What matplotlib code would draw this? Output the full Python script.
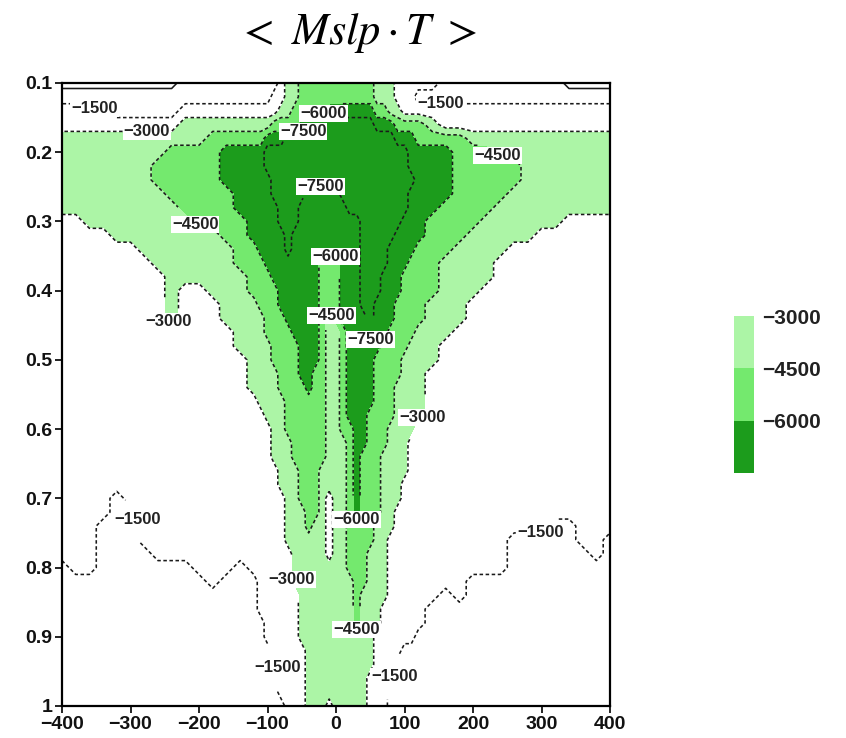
import numpy as np
import matplotlib
matplotlib.use("Agg")
import matplotlib.pyplot as plt
import matplotlib as mpl
from matplotlib.colors import ListedColormap, BoundaryNorm

plt.rcParams['font.family'] = ['Liberation Sans', 'DejaVu Sans']
plt.rcParams['mathtext.fontset'] = 'stix'

# grid nodes (finer in the middle where the funnel is narrow)
x_nodes = [-400, -380, -360, -340, -320, -300, -280, -260, -240, -220, -200, -180, -160, -140, -120,
           -110, -100, -90, -80, -70, -60, -50, -40, -30, -20, -10, 0, 10, 20, 30, 40, 50, 60, 70, 80, 90, 100, 110,
           120, 140, 160, 180, 200, 220, 240, 260, 280, 300, 320, 340, 360, 380, 400]
y_nodes = [0.10, 0.12, 0.14, 0.16, 0.18, 0.20, 0.22, 0.24, 0.26, 0.28, 0.30, 0.32, 0.34, 0.36, 0.38,
           0.40, 0.42, 0.44, 0.46, 0.48, 0.50, 0.52, 0.54, 0.56, 0.58, 0.60, 0.62, 0.64, 0.66, 0.68,
           0.70, 0.72, 0.74, 0.76, 0.78, 0.80, 0.82, 0.84, 0.86, 0.88, 0.90, 0.92, 0.94, 0.96, 0.98, 1.00]

# value band read at each node, one string per y row (x = -400..-120 | -110..110 | 120..400)
# 0: >0, 1: 0..-1500, 2: -1500..-3000, 3: -3000..-4500, 4: -4500..-6000, 5: -6000..-7500, 6: < -7500
band_rows = [
    "000000000111111 11123344444444444333222 221111111110000",
    "111111111111111 11223344444444444333222 111111111111111",
    "222111111222222 22233444445555555443322 222222222222222",
    "222222222333333 33444455566666666555444 432222222222222",
    "333333333334444 45556666666666666666555 444433333333333",
    "333333334444555 56666666666666666666665 555444333333333",
    "333333344444555 56666666666666666666665 555444443333333",
    "333333344444555 55666666666666666666666 555444443333333",
    "333333334444455 55666665555566666666665 555444433333333",
    "333333333444455 55566655555556666666665 554444333333333",
    "223333333344445 55566655555555566666655 544443333332222",
    "222233333333445 55556555555555566666555 544433333222222",
    "222222333333344 55556555555555566665555 444333322222222",
    "222222233333344 45555555544455566665554 443333222222222",
    "222222223333334 44555555544455566655544 443333222222222",
    "222222223223334 44455555544455566655544 443332222222222",
    "222222223222333 44455555544455566555444 433322222222222",
    "222222223222333 34445555543455556555444 433322222222222",
    "222222222222233 34444555543345556554444 333222222222222",
    "222222222222233 33444455543345555544443 332222222222222",
    "222222222222223 33444455543345555444433 332222222222222",
    "222222222222223 33344455443345555444433 322222222222222",
    "222222222222223 33344445443345555444333 322222222222222",
    "222222222222222 33334444443345555444333 322222222222222",
    "222222222222222 23334444443345554444333 322222222222222",
    "222222222222222 22334444443344554443333 222222222222222",
    "222222222222222 22333444443334554443332 222222222222222",
    "222222222222222 22333444443334544433332 222222222222222",
    "222222222222222 22233344433334544433332 222222222222222",
    "222222222222222 22233344433334544433322 222222222222222",
    "222212222222222 22223344432334544433322 222222222222222",
    "222211222222222 22223334432334544433222 222222222222222",
    "222111222222222 22223334332334444333222 222222222211222",
    "222111222222222 22223333332334444332222 222222211111221",
    "222111122222222 22222333332334443332222 222222211111121",
    "122111111122212 22222333333334443332222 222222211111111",
    "111111111112111 22222333333333443332222 222211111111111",
    "111111111111111 22222233333333433332222 221211111111111",
    "111111111111111 22222233333333433322222 211111111111111",
    "111111111111111 12222233333333433322222 211111111111111",
    "111111111111111 12222233333333333222222 111111111111111",
    "111111111111111 11222223333333333222211 111111111111111",
    "111111111111111 11122223333333333222111 111111111111111",
    "111111111111111 11122223333333332222111 111111111111111",
    "111111111111111 11122223333333332221111 111111111111111",
    "111111111111111 11112223332333332221111 111111111111111",
]
band_value = {'0': 500, '1': -750, '2': -2250, '3': -3750, '4': -5250, '5': -6750, '6': -8250}

fill_levels = [-9000, -6000, -4500, -3000, 1000]
fill_colors = ['#1c9c1c', '#74e96e', '#acf5a6', '#ffffff']
line_levels = [-7500, -6000, -4500, -3000, -1500, 0]

# where the contour labels sit (x, y)
label_spots = {
    -1500: [(-337, 0.122), (152, 0.142), (-272, 0.731), (298, 0.756), (-93, 0.944), (101, 0.958)],
    -3000: [(-276, 0.164), (-264, 0.464), (130, 0.587), (-67, 0.818)],
    -4500: [(244, 0.197), (-199, 0.298), (-4, 0.435), (31, 0.902)],
    -6000: [(-20, 0.142), (-1, 0.341), (35, 0.742)],
    -7500: [(-48, 0.169), (-23, 0.266), (57, 0.479)],
}

x_ticks = [-400, -300, -200, -100, 0, 100, 200, 300, 400]
y_ticks = [0.1, 0.2, 0.3, 0.4, 0.5, 0.6, 0.7, 0.8, 0.9, 1.0]
y_ticklabels = ['0.1', '0.2', '0.3', '0.4', '0.5', '0.6', '0.7', '0.8', '0.9', '1']
cbar_bounds = [-7500, -6000, -4500, -3000, -1500]
cbar_ticks = [-6000, -4500, -3000]


def fmt(v):
    return f'{int(round(v))}'.replace('-', '\u2212')


rows = [r.replace(' ', '') for r in band_rows]
Z = np.array([[band_value[c] for c in r] for r in rows], dtype=float)
if Z.shape != (len(y_nodes), len(x_nodes)):
    raise ValueError(f'bad grid {Z.shape}')
X, Y = np.meshgrid(x_nodes, y_nodes)

fig = plt.figure(figsize=(8.46, 7.38), dpi=100)
ax = fig.add_axes([0.0733, 0.0434, 0.6478, 0.8442])

ax.contourf(X, Y, Z, levels=fill_levels, colors=fill_colors)
dash = (0, (2.2, 1.6))
for lev in line_levels:
    cs = ax.contour(X, Y, Z, levels=[lev], colors='#1a1a1a', linewidths=1.15,
                    linestyles=['solid'] if lev == 0 else [dash])
    if lev in label_spots:
        texts = cs.clabel(manual=label_spots[lev], inline=True, inline_spacing=1,
                          fmt=fmt, fontsize=12)
        for t in texts:
            t.set_rotation(0)
            t.set_fontweight('bold')
            t.set_color('#222222')
            t.set_bbox(dict(boxstyle='square,pad=0.06', fc='white', ec='none'))

ax.set_xlim(-400, 400)
ax.set_ylim(1.0, 0.1)
ax.set_xticks(x_ticks)
ax.set_yticks(y_ticks)
ax.set_yticklabels(y_ticklabels)
ax.tick_params(direction='out', length=5, width=1.3, labelsize=14, pad=2,
               top=False, right=False, colors='#111111')
for lab in ax.get_xticklabels() + ax.get_yticklabels():
    lab.set_fontweight('bold')
for sp in ax.spines.values():
    sp.set_linewidth(1.6)

# colour key
cax = fig.add_axes([0.8676, 0.3591, 0.0236, 0.2832])
cb = mpl.colorbar.ColorbarBase(cax, cmap=ListedColormap(fill_colors),
                               norm=BoundaryNorm(cbar_bounds, 4), ticks=cbar_ticks)
cb.outline.set_visible(False)
cax.minorticks_off()
cax.tick_params(which='both', length=0, pad=6, labelsize=15)
cb.set_ticklabels([fmt(v) for v in cbar_ticks])
for lab in cax.get_yticklabels():
    lab.set_fontweight('bold')
    lab.set_color('#222222')

fig.text(0.422, 0.955, r'$<\ Mslp\cdot T\ >$', fontsize=32, ha='center', va='center')

fig.savefig('out.png', dpi=100)
